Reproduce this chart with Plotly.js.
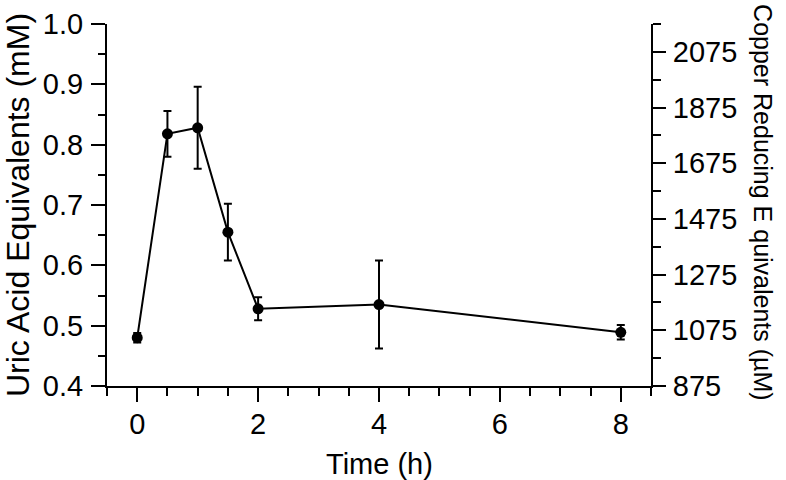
<!DOCTYPE html>
<html>
<head>
<meta charset="utf-8">
<script src="https://cdn.plot.ly/plotly-3.0.1.min.js"></script>
<style>html,body{margin:0;padding:0;background:#fff;}#chart{width:786px;height:480px;}</style>
</head>
<body>
<div id="chart"></div>
<script>
// Data
const timeHours = [0, 0.5, 1, 1.5, 2, 4, 8];
const uricAcidMM = [0.480, 0.818, 0.828, 0.655, 0.528, 0.535, 0.489];
const uricAcidErr = [0.008, 0.038, 0.068, 0.047, 0.019, 0.073, 0.012];
const xTickVals = [0, 2, 4, 6, 8];
const yTickVals = [0.4, 0.5, 0.6, 0.7, 0.8, 0.9, 1.0];
const yTickText = ['0.4', '0.5', '0.6', '0.7', '0.8', '0.9', '1.0'];
const y2TickVals = [875, 1075, 1275, 1475, 1675, 1875, 2075];
const xTitle = 'Time (h)';
const yTitle = 'Uric Acid Equivalents (mM)';
const y2Title = 'Copper Reducing E quivalents (\u00b5M)';

const FONT = 'Liberation Sans, Arial, Helvetica, sans-serif';

const traces = [
  {
    x: timeHours,
    y: uricAcidMM,
    type: 'scatter',
    mode: 'lines+markers',
    line: {color: '#000', width: 2},
    marker: {color: '#000', size: 11},
    error_y: {type: 'data', array: uricAcidErr, visible: true, color: '#000', thickness: 2, width: 4},
    showlegend: false,
    hoverinfo: 'x+y'
  },
  {
    x: [], y: [], yaxis: 'y2', type: 'scatter', mode: 'lines', showlegend: false
  }
];

const layout = {
  width: 786,
  height: 480,
  margin: {l: 107, r: 135, t: 24, b: 94, pad: 0},
  paper_bgcolor: '#fff',
  plot_bgcolor: '#fff',
  font: {family: FONT, color: '#000', size: 29},
  showlegend: false,
  xaxis: {
    range: [-0.5, 8.5],
    tickvals: xTickVals,
    ticktext: xTickVals.map(String),
    ticks: 'outside', ticklen: 14, tickwidth: 2, tickcolor: '#000',
    ticklabelstandoff: -3,
    minor: {dtick: 0.5, tick0: 0, ticks: 'outside', ticklen: 8, tickwidth: 2, tickcolor: '#000'},
    showline: true, linecolor: '#000', linewidth: 2,
    showgrid: false, zeroline: false,
    tickfont: {family: FONT, size: 29, color: '#000'}
  },
  yaxis: {
    range: [0.4, 1.0],
    tickvals: yTickVals,
    ticktext: yTickText,
    ticks: 'outside', ticklen: 14, tickwidth: 2, tickcolor: '#000',
    ticklabelstandoff: 2,
    minor: {dtick: 0.05, tick0: 0.4, ticks: 'outside', ticklen: 7, tickwidth: 2, tickcolor: '#000'},
    showline: true, linecolor: '#000', linewidth: 2,
    showgrid: false, zeroline: false,
    tickfont: {family: FONT, size: 29, color: '#000'}
  },
  yaxis2: {
    overlaying: 'y', side: 'right',
    range: [875, 2175],
    tickvals: y2TickVals,
    ticktext: y2TickVals.map(String),
    ticks: 'outside', ticklen: 13, tickwidth: 2, tickcolor: '#000',
    ticklabelstandoff: 1,
    minor: {dtick: 100, tick0: 875, ticks: 'outside', ticklen: 8, tickwidth: 2, tickcolor: '#000'},
    showline: true, linecolor: '#000', linewidth: 2,
    showgrid: false, zeroline: false,
    tickfont: {family: FONT, size: 29, color: '#000'}
  },
  annotations: [
    {text: xTitle, xref: 'paper', yref: 'paper', x: 0.5, y: 0, xanchor: 'center', yanchor: 'middle',
     yshift: -78, showarrow: false, font: {family: FONT, size: 29, color: '#000'}},
    {text: yTitle, xref: 'paper', yref: 'paper', x: 0, y: 0.5, xanchor: 'center', yanchor: 'middle',
     xshift: -89, textangle: -90, showarrow: false, font: {family: FONT, size: 32, color: '#000'}},
    {text: y2Title, xref: 'paper', yref: 'paper', x: 1, y: 0.508, xanchor: 'center', yanchor: 'middle',
     xshift: 112, textangle: 90, showarrow: false, font: {family: FONT, size: 25, color: '#000'}}
  ]
};

Plotly.newPlot('chart', traces, layout, {displayModeBar: false, staticPlot: true});
</script>
</body>
</html>
